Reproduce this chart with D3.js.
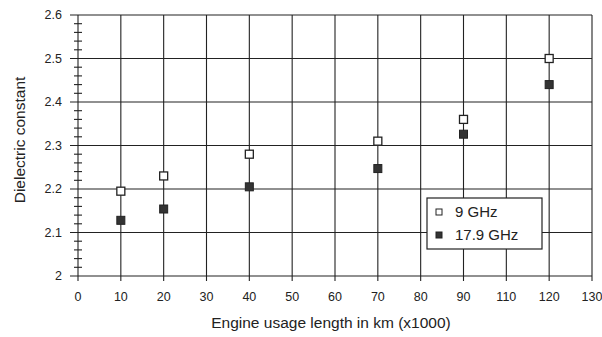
<!DOCTYPE html>
<html><head><meta charset="utf-8">
<script src="https://cdn.jsdelivr.net/npm/d3@7"></script>
<style>body{margin:0;background:#fff}text{font-family:"Liberation Sans",Arial,sans-serif;fill:#222}</style>
</head><body><svg id="c" width="602" height="337"></svg>
<script>
const xTickLabels = ["0","10","20","30","40","50","60","70","80","90","110","120","130"];
const xCats = ["10","20","40","70","90","120"];
const s9 = [2.195,2.23,2.28,2.31,2.36,2.50];
const s179 = [2.128,2.154,2.205,2.247,2.326,2.44];
const yTicks = [2,2.1,2.2,2.3,2.4,2.5,2.6];
const seriesNames = ["9 GHz","17.9 GHz"];

const svg = d3.select("#c");
const L=78,R=592,T=15,B=276;
const x = d3.scalePoint().domain(xTickLabels).range([L,R]);
const y = d3.scaleLinear().domain([2,2.6]).range([B,T]);
const ink="#222";

// grid
svg.append("g").selectAll("line").data(yTicks).join("line")
  .attr("x1",70).attr("x2",R).attr("y1",d=>y(d)).attr("y2",d=>y(d))
  .attr("stroke",ink).attr("stroke-width",1.1);
svg.append("g").selectAll("line").data(xTickLabels).join("line")
  .attr("x1",d=>x(d)).attr("x2",d=>x(d)).attr("y1",T).attr("y2",B+5)
  .attr("stroke",ink).attr("stroke-width",1.1);
// minor y ticks
const minor = d3.range(2.02,2.6,0.02).filter(v=>Math.abs(v*10-Math.round(v*10))>0.01);
svg.append("g").selectAll("line").data(minor).join("line")
  .attr("x1",L-4).attr("x2",L+4).attr("y1",d=>y(d)).attr("y2",d=>y(d))
  .attr("stroke",ink).attr("stroke-width",1.1);

// y labels
svg.append("g").selectAll("text").data(yTicks).join("text")
  .attr("x",62).attr("y",d=>y(d)).attr("dy","0.35em").attr("text-anchor","end")
  .attr("font-size",12.5).text(d=>d3.format("")(d));
// x labels
svg.append("g").selectAll("text").data(xTickLabels).join("text")
  .attr("x",d=>x(d)).attr("y",297).attr("dy","0.35em").attr("text-anchor","middle")
  .attr("font-size",12.5).text(d=>d);
// titles
svg.append("text").attr("x",331).attr("y",328).attr("text-anchor","middle").attr("font-size",15.5)
  .text("Engine usage length in km (x1000)");
svg.append("text").attr("transform","translate(25,140) rotate(-90)").attr("text-anchor","middle")
  .attr("font-size",15.5).text("Dielectric constant");

// markers
const ms=8;
svg.append("g").selectAll("rect").data(xCats.map((c,i)=>[c,s9[i]])).join("rect")
  .attr("x",d=>x(d[0])-ms/2).attr("y",d=>y(d[1])-ms/2).attr("width",ms).attr("height",ms)
  .attr("fill","#fff").attr("stroke",ink).attr("stroke-width",1.3);
svg.append("g").selectAll("rect").data(xCats.map((c,i)=>[c,s179[i]])).join("rect")
  .attr("x",d=>x(d[0])-ms/2).attr("y",d=>y(d[1])-ms/2).attr("width",ms).attr("height",ms)
  .attr("fill","#333").attr("stroke",ink).attr("stroke-width",1);

// legend
const lg = svg.append("g");
lg.append("rect").attr("x",427).attr("y",198).attr("width",115).attr("height",51)
  .attr("fill","#fff").attr("stroke",ink).attr("stroke-width",1.2);
seriesNames.forEach((n,i)=>{
  const cy = 212+i*23;
  lg.append("rect").attr("x",439-3).attr("y",cy-3).attr("width",6).attr("height",6)
    .attr("fill",i?"#333":"#fff").attr("stroke",ink);
  lg.append("text").attr("x",455).attr("y",cy).attr("dy","0.35em").attr("font-size",15).text(n);
});
</script></body></html>
